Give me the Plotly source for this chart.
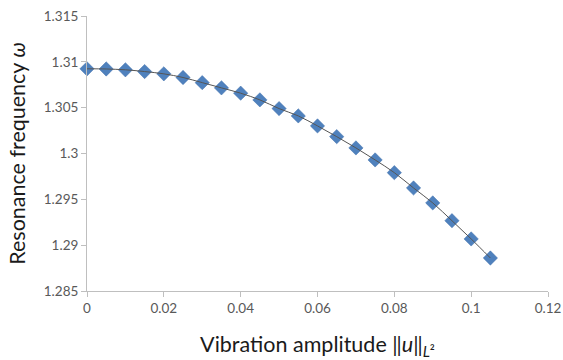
import plotly.graph_objects as go

amplitude = [0, 0.005, 0.01, 0.015, 0.02, 0.025, 0.03, 0.035, 0.04, 0.045, 0.05,
             0.055, 0.06, 0.065, 0.07, 0.075, 0.08, 0.085, 0.09, 0.095, 0.1, 0.105]
frequency = [1.30924, 1.30922, 1.30913, 1.30894, 1.30869, 1.30829, 1.30773, 1.30716,
             1.30658, 1.30585, 1.30490, 1.30410, 1.30301, 1.30184, 1.30061, 1.29930,
             1.29791, 1.29624, 1.29461, 1.29267, 1.29068, 1.28860]

x_ticks = [0, 0.02, 0.04, 0.06, 0.08, 0.1, 0.12]
x_labels = ["0", "0.02", "0.04", "0.06", "0.08", "0.1", "0.12"]
y_ticks = [1.285, 1.29, 1.295, 1.3, 1.305, 1.31, 1.315]
y_labels = ["1.285", "1.29", "1.295", "1.3", "1.305", "1.31", "1.315"]

fig = go.Figure()
fig.add_trace(go.Scatter(
    x=amplitude, y=frequency, mode="markers",
    marker=dict(symbol="diamond", size=11, color="#4F81BD",
                line=dict(width=0.5, color="#3E6FAA")),
    cliponaxis=False, showlegend=False))
fig.add_trace(go.Scatter(
    x=amplitude, y=frequency, mode="lines",
    line=dict(color="#555555", width=1, shape="spline"),
    showlegend=False))

axis_common = dict(showgrid=False, zeroline=False, showline=True,
                   linecolor="#BFBFBF", linewidth=1, ticks="outside",
                   ticklen=5, tickcolor="#BFBFBF", automargin=False,
                   ticklabeloverflow="allow",
                   tickfont=dict(family="Lato", size=13.5, color="#595959"))

fig.update_layout(
    width=563, height=360,
    margin=dict(l=87, r=15, t=16, b=69),
    paper_bgcolor="white", plot_bgcolor="white",
    xaxis=dict(range=[0, 0.12], tickvals=x_ticks, ticktext=x_labels,
               title=dict(text="Vibration amplitude ‖<i>u</i>‖<sub><i>L</i>²</sub>",
                          font=dict(family="Lato", size=21.5, color="#1a1a1a"),
                          standoff=24),
               **axis_common),
    yaxis=dict(range=[1.285, 1.315], tickvals=y_ticks, ticktext=y_labels,
               title=dict(text="Resonance frequency <i>ω</i>",
                          font=dict(family="Lato", size=21.5, color="#1a1a1a"),
                          standoff=12),
               **axis_common),
)

fig.write_html("out.html", config={"displayModeBar": False},
               post_script="document.body.style.margin='0';document.body.style.overflow='hidden';")
